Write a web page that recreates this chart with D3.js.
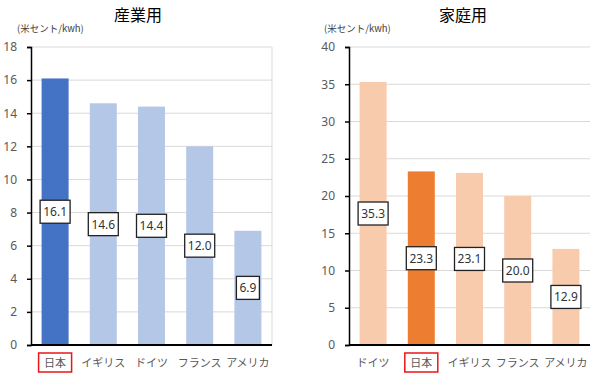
<!DOCTYPE html>
<html lang="ja">
<head>
<meta charset="UTF-8">
<title>電気料金</title>
<script src="https://d3js.org/d3.v7.min.js"></script>
<style>
    body { margin: 0; background: #fff; }
    text { font-family: "Noto Sans CJK JP", "Noto Sans", sans-serif; }
</style>
</head>
<body>
<svg id="chart" width="600" height="380"></svg>
<script>
    // industrial prices
    var indCountries = ["日本", "イギリス", "ドイツ", "フランス", "アメリカ"];
    var indValues = [16.1, 14.6, 14.4, 12.0, 6.9];
    var indTicks = [0, 2, 4, 6, 8, 10, 12, 14, 16, 18];

    // household prices
    var homeCountries = ["ドイツ", "日本", "イギリス", "フランス", "アメリカ"];
    var homeValues = [35.3, 23.3, 23.1, 20.0, 12.9];
    var homeTicks = [0, 5, 10, 15, 20, 25, 30, 35, 40];

    var unitText = "(米セント/kwh)";
    var highlight = "日本";

    var svg = d3.select("#chart");

    function drawPanel(opts) {
        var g = svg.append("g");
        var x = d3.scaleBand().domain(opts.cats).range([opts.left, opts.right]).paddingInner(0.44).paddingOuter(0.22);
        var y = d3.scaleLinear().domain([0, opts.max]).range([345, 47]);

        // title + unit
        g.append("text").attr("x", opts.titleX).attr("y", 21)
            .attr("text-anchor", "middle").style("font-size", "16px").style("font-weight", "400")
            .attr("fill", "#000")
            .text(opts.title);
        g.append("text").attr("x", opts.unitX).attr("y", 32)
            .style("font-size", "9.5px").attr("fill", "#404040")
            .text(unitText);

        // grid lines
        g.selectAll(".grid").data(opts.ticks.filter(function(d){ return d > 0; }))
            .enter().append("line")
            .attr("x1", opts.left).attr("x2", opts.right)
            .attr("y1", function(d){ return y(d); }).attr("y2", function(d){ return y(d); })
            .attr("stroke", "#d9d9d9").attr("stroke-width", 1);

        if (opts.border) {
            g.append("line").attr("x1", opts.right).attr("x2", opts.right)
                .attr("y1", y(opts.max)).attr("y2", y(0))
                .attr("stroke", "#d9d9d9").attr("stroke-width", 1);
        }

        // bars
        var data = opts.cats.map(function(c, i){ return {c: c, v: opts.vals[i]}; });
        g.selectAll(".bar").data(data).enter().append("rect")
            .attr("x", function(d){ return x(d.c); })
            .attr("width", x.bandwidth())
            .attr("y", function(d){ return y(d.v); })
            .attr("height", function(d){ return y(0) - y(d.v); })
            .attr("fill", function(d){ return d.c === highlight ? opts.main : opts.light; });

        // y axis
        var ax = g.append("g").attr("transform", "translate(" + opts.left + ",0)")
            .call(d3.axisLeft(y).tickValues(opts.ticks).tickSize(4).tickPadding(10));
        ax.select(".domain").attr("stroke", "#000").attr("stroke-width", 1.5);
        ax.selectAll(".tick line").attr("stroke", "#000").attr("stroke-width", 1.5);
        ax.selectAll(".tick text").attr("fill", "#595959").style("font-size", "12px")
            .style("font-family", "'Noto Sans', sans-serif");

        // x baseline
        g.append("line").attr("x1", opts.left).attr("x2", opts.right)
            .attr("y1", y(0)).attr("y2", y(0))
            .attr("stroke", "#000").attr("stroke-width", 2);

        // category labels
        g.selectAll(".cat").data(data).enter().append("text")
            .attr("x", function(d){ return x(d.c) + x.bandwidth() / 2; })
            .attr("y", 367).attr("text-anchor", "middle")
            .attr("fill", "#595959").style("font-size", "11px")
            .text(function(d){ return d.c; });

        var hx = x(highlight) + x.bandwidth() / 2;
        g.append("rect").attr("x", hx - 16.5).attr("y", 353).attr("width", 33).attr("height", 19)
            .attr("fill", "none").attr("stroke", "#e8161b").attr("stroke-width", 1.5);

        // value boxes
        var lab = g.selectAll(".lab").data(data).enter().append("g")
            .attr("transform", function(d){
                return "translate(" + (x(d.c) + x.bandwidth() / 2) + "," + y(d.v / 2) + ")";
            });
        lab.append("rect").attr("x", function(d){ return d.v < 10 ? -11.5 : -15; })
            .attr("y", -11.5)
            .attr("width", function(d){ return d.v < 10 ? 23 : 30; }).attr("height", 23)
            .attr("fill", "#fff").attr("stroke", "#222").attr("stroke-width", 1.3);
        lab.append("text").attr("y", 4.5).attr("text-anchor", "middle")
            .attr("fill", "#333").style("font-size", "12px")
            .style("font-family", "'Noto Sans', sans-serif")
            .text(function(d){ return d.v.toFixed(1); });
    }

    drawPanel({cats: indCountries, vals: indValues, ticks: indTicks, max: 18,
        left: 31, right: 272, title: "産業用", titleX: 138, unitX: 17,
        main: "#4472c4", light: "#b4c7e7", border: true});

    drawPanel({cats: homeCountries, vals: homeValues, ticks: homeTicks, max: 40,
        left: 349, right: 590, title: "家庭用", titleX: 463, unitX: 324,
        main: "#ed7d31", light: "#f8cbad", border: false});
</script>
</body>
</html>
